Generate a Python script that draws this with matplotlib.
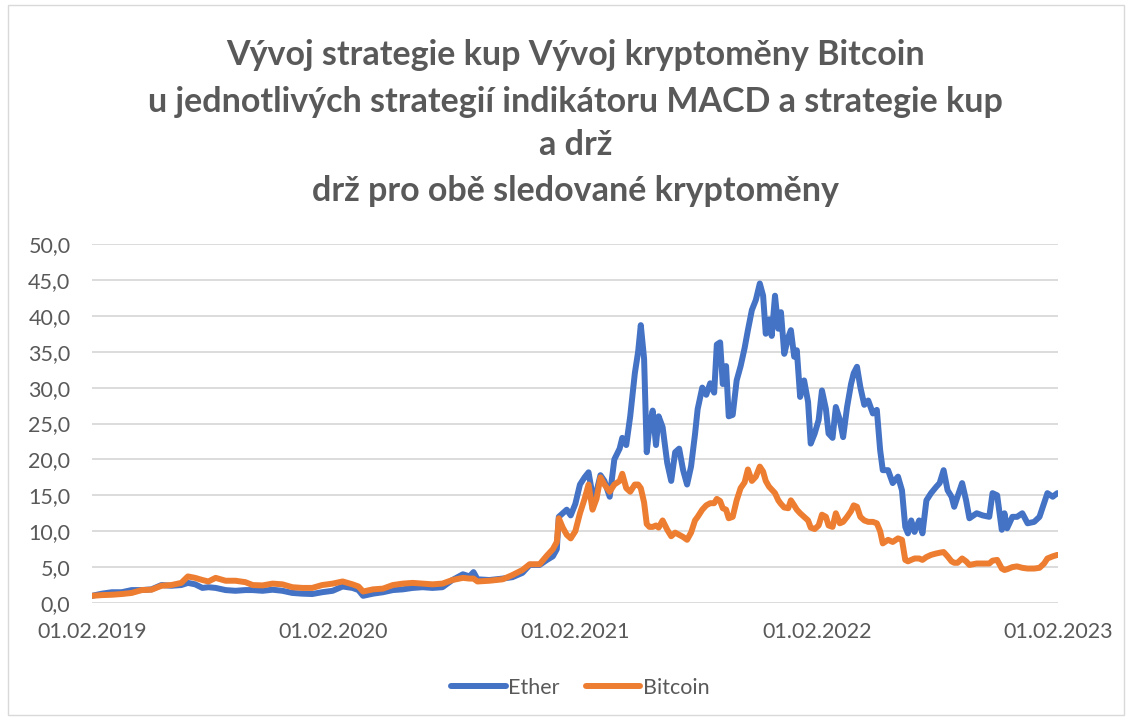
import matplotlib
matplotlib.use("Agg")
import matplotlib.pyplot as plt
import matplotlib.dates as mdates
from matplotlib.patches import Rectangle
from matplotlib.ticker import FuncFormatter
import pandas as pd

# === Data (value relative to 01.02.2019) ===
dates = [
    "2019-02-01", "2019-02-16", "2019-03-03", "2019-03-18", "2019-04-02", "2019-04-17",
    "2019-05-02", "2019-05-17", "2019-06-01", "2019-06-16", "2019-06-26", "2019-07-07",
    "2019-07-18", "2019-07-27", "2019-08-07", "2019-08-22", "2019-09-06", "2019-09-21",
    "2019-10-02", "2019-10-17", "2019-11-01", "2019-11-16", "2019-12-01", "2019-12-16",
    "2019-12-31", "2020-01-15", "2020-01-31", "2020-02-15", "2020-03-01", "2020-03-10",
    "2020-03-17", "2020-04-01", "2020-04-16", "2020-05-01", "2020-05-16", "2020-05-31",
    "2020-06-15", "2020-06-30", "2020-07-15", "2020-07-30", "2020-08-15", "2020-08-25",
    "2020-08-31", "2020-09-06", "2020-09-24", "2020-10-14", "2020-10-29", "2020-11-13",
    "2020-11-24", "2020-12-09", "2020-12-20", "2020-12-29", "2021-01-04", "2021-01-07",
    "2021-01-13", "2021-01-19", "2021-01-25", "2021-02-01", "2021-02-08", "2021-02-15",
    "2021-02-21", "2021-02-27", "2021-03-05", "2021-03-11", "2021-03-17", "2021-03-25",
    "2021-04-01", "2021-04-09", "2021-04-13", "2021-04-19", "2021-04-25", "2021-05-02",
    "2021-05-07", "2021-05-11", "2021-05-16", "2021-05-20", "2021-05-24", "2021-05-29",
    "2021-06-03", "2021-06-07", "2021-06-13", "2021-06-20", "2021-06-26", "2021-07-02",
    "2021-07-08", "2021-07-14", "2021-07-20", "2021-07-26", "2021-08-01", "2021-08-05",
    "2021-08-12", "2021-08-18", "2021-08-24", "2021-08-30", "2021-09-03", "2021-09-08",
    "2021-09-12", "2021-09-17", "2021-09-21", "2021-09-27", "2021-10-03", "2021-10-09",
    "2021-10-15", "2021-10-20", "2021-10-26", "2021-11-01", "2021-11-07", "2021-11-12",
    "2021-11-16", "2021-11-21", "2021-11-25", "2021-11-30", "2021-12-05", "2021-12-09",
    "2021-12-14", "2021-12-20", "2021-12-24", "2021-12-29", "2022-01-02", "2022-01-07",
    "2022-01-13", "2022-01-19", "2022-01-23", "2022-01-29", "2022-02-04", "2022-02-09",
    "2022-02-15", "2022-02-19", "2022-02-25", "2022-03-02", "2022-03-08", "2022-03-13",
    "2022-03-19", "2022-03-25", "2022-03-29", "2022-04-03", "2022-04-08", "2022-04-14",
    "2022-04-20", "2022-04-27", "2022-05-03", "2022-05-08", "2022-05-12", "2022-05-20",
    "2022-05-27", "2022-06-04", "2022-06-10", "2022-06-15", "2022-06-19", "2022-06-24",
    "2022-06-29", "2022-07-06", "2022-07-11", "2022-07-17", "2022-07-24", "2022-08-01",
    "2022-08-06", "2022-08-12", "2022-08-18", "2022-08-24", "2022-08-28", "2022-09-02",
    "2022-09-09", "2022-09-15", "2022-09-20", "2022-10-01", "2022-10-10", "2022-10-20",
    "2022-10-25", "2022-11-01", "2022-11-08", "2022-11-12", "2022-11-16", "2022-11-24",
    "2022-12-01", "2022-12-09", "2022-12-17", "2022-12-27", "2023-01-04", "2023-01-11",
    "2023-01-16", "2023-01-24", "2023-01-31",
]

ether = [
    1.0, 1.3, 1.5, 1.5, 1.8, 1.8,
    1.9, 2.5, 2.4, 2.5, 2.8, 2.6,
    2.1, 2.2, 2.1, 1.8, 1.7, 1.8,
    1.8, 1.7, 1.85, 1.7, 1.4, 1.3,
    1.25, 1.5, 1.7, 2.3, 2.1, 1.8,
    1.0, 1.3, 1.5, 1.8, 1.9, 2.1,
    2.2, 2.1, 2.2, 3.2, 4.0, 3.7,
    4.3, 3.3, 3.2, 3.4, 3.6, 4.2,
    5.3, 5.3, 6.0, 6.5, 7.5, 12.0,
    12.5, 13.0, 12.2, 13.8, 16.5, 17.5,
    18.2, 15.0, 15.5, 17.8, 17.0, 14.8,
    20.0, 21.5, 23.0, 22.0, 26.0, 32.0,
    35.0, 38.7, 34.0, 21.0, 24.5, 26.8,
    22.0, 26.0, 24.5, 19.5, 17.0, 21.0,
    21.5, 18.5, 16.5, 19.0, 23.5, 27.0,
    30.0, 29.0, 30.6, 29.3, 36.0, 36.3,
    30.5, 33.0, 26.0, 26.2, 31.0, 33.0,
    35.5, 38.0, 40.8, 42.2, 44.5, 42.8,
    37.5, 39.5, 37.2, 42.8, 38.2, 40.5,
    34.7, 37.0, 38.0, 34.3, 35.2, 28.7,
    31.0, 28.0, 22.2, 23.6, 25.5, 29.6,
    27.0, 23.6, 23.0, 27.3, 25.5, 23.1,
    27.3, 30.5, 32.0, 32.9, 30.1, 27.6,
    28.2, 26.4, 26.9, 21.3, 18.5, 18.5,
    16.7, 17.6, 15.7, 10.6, 9.7, 11.5,
    9.9, 11.5, 9.7, 14.3, 15.3, 16.2,
    16.7, 18.5, 15.7, 14.8, 13.4, 14.8,
    16.7, 14.3, 11.8, 12.5, 12.2, 12.0,
    15.3, 15.0, 10.2, 12.5, 10.4, 12.0,
    12.0, 12.5, 11.1, 11.3, 12.0, 13.9,
    15.3, 14.8, 15.3,
]

bitcoin = [
    1.0, 1.1, 1.15, 1.25, 1.4, 1.8,
    1.85, 2.4, 2.5, 2.8, 3.7, 3.5,
    3.2, 3.0, 3.5, 3.1, 3.1, 2.9,
    2.5, 2.45, 2.7, 2.6, 2.2, 2.1,
    2.1, 2.5, 2.7, 3.0, 2.6, 2.3,
    1.6, 1.9, 2.0, 2.5, 2.7, 2.8,
    2.7, 2.6, 2.7, 3.2, 3.5, 3.4,
    3.4, 3.0, 3.1, 3.3, 3.9, 4.6,
    5.4, 5.4, 6.6, 7.5, 8.5, 11.8,
    10.5, 9.5, 9.0, 10.0, 12.5, 14.5,
    16.5, 13.0, 14.5, 17.5, 16.5, 15.5,
    16.5, 17.0, 18.0, 16.0, 15.5, 16.5,
    16.5, 16.0, 14.0, 11.0, 10.6, 10.6,
    10.8, 10.5, 11.5, 10.2, 9.3, 9.8,
    9.5, 9.2, 8.8, 9.8, 11.5, 12.0,
    13.0, 13.6, 13.9, 13.9, 14.5, 14.2,
    13.2, 13.0, 11.8, 12.0, 14.3, 16.0,
    16.8, 18.6, 17.0, 17.6, 19.0, 18.3,
    17.0, 16.2, 15.8, 15.3, 14.3, 13.8,
    13.3, 13.2, 14.3, 13.6, 13.0, 12.5,
    12.0, 11.5, 10.5, 10.3, 10.8, 12.3,
    12.0, 10.8, 10.6, 12.5, 11.1, 11.3,
    12.0, 12.8, 13.6, 13.4, 12.0, 11.5,
    11.3, 11.3, 11.1, 10.0, 8.3, 8.8,
    8.5, 9.0, 8.8, 6.0, 5.8, 6.0,
    6.2, 6.2, 6.0, 6.4, 6.7, 6.9,
    7.0, 7.1, 6.5, 5.8, 5.6, 5.6,
    6.2, 5.8, 5.3, 5.5, 5.5, 5.5,
    5.9, 6.0, 4.8, 4.6, 4.7, 5.0,
    5.1, 4.9, 4.8, 4.8, 4.9, 5.5,
    6.2, 6.5, 6.7,
]

x_ticks = ["2019-02-01", "2020-02-01", "2021-02-01", "2022-02-01", "2023-02-01"]

title_lines = [
    "Vývoj strategie kup Vývoj kryptoměny Bitcoin",
    "u jednotlivých strategií indikátoru MACD a strategie kup",
    "a drž",
    "drž pro obě sledované kryptoměny",
]

# === Style ===
FONT = ["Lato", "DejaVu Sans"]
plt.rcParams['font.family'] = FONT
GREY = '#595959'
BLUE = '#4472C4'
ORANGE = '#ED7D31'

W, H = 1131, 719
fig = plt.figure(figsize=(W / 100, H / 100), dpi=100)
fig.patch.set_facecolor('white')

# chart area border
fig.patches.append(Rectangle((8 / W, 4 / H), (1124 - 8) / W, (714 - 4) / H,
                             transform=fig.transFigure, fill=False,
                             edgecolor='#D9D9D9', linewidth=1.0))

ax = fig.add_axes([92 / W, 1 - 603 / H, (1058 - 92) / W, (603 - 244) / H])

x = pd.to_datetime(dates)
ax.plot(x, ether, color=BLUE, linewidth=4.3, solid_capstyle='round',
        solid_joinstyle='round', label='Ether', zorder=3)
ax.plot(x, bitcoin, color=ORANGE, linewidth=4.3, solid_capstyle='round',
        solid_joinstyle='round', label='Bitcoin', zorder=4)

ax.set_ylim(0, 50)
ax.set_yticks(range(0, 51, 5))
ax.yaxis.set_major_formatter(FuncFormatter(lambda v, p: f"{v:.1f}".replace('.', ',')))
tick_dates = pd.to_datetime(x_ticks)
ax.set_xlim(tick_dates[0], tick_dates[-1])
ax.set_xticks(tick_dates)
ax.xaxis.set_major_formatter(mdates.DateFormatter('%d.%m.%Y'))

ax.grid(axis='y', color='#D9D9D9', linewidth=1.3, zorder=0)
ax.grid(axis='x', visible=False)
for s in ax.spines.values():
    s.set_visible(False)
ax.tick_params(axis='both', length=0, labelsize=15.5, labelcolor=GREY)
ax.tick_params(axis='y', pad=15.5)
ax.tick_params(axis='x', pad=14)
ax.set_axisbelow(True)

# title, one line at a time
for txt, base in zip(title_lines, [65, 112, 155, 201]):
    fig.text(0.509, 1 - base / H, txt, ha='center', va='baseline',
             fontsize=24.5, fontweight='bold', color=GREY)

leg = fig.legend(loc='center', bbox_to_anchor=(0.513, 1 - 688 / H), ncol=2,
                 frameon=False, fontsize=15.5, handlelength=2.55, handletextpad=0.1,
                 columnspacing=1.2)
for t in leg.get_texts():
    t.set_color(GREY)
for h in leg.get_lines():
    h.set_linewidth(4.3)

fig.savefig('out.png', dpi=100)
